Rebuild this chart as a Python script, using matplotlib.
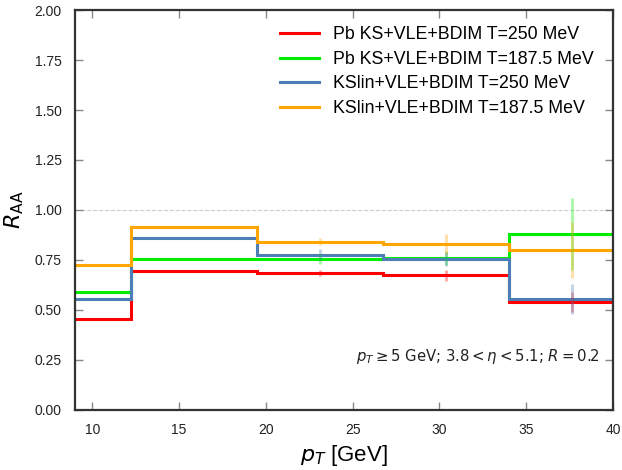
import matplotlib
matplotlib.use("Agg")
import matplotlib.pyplot as plt
import numpy as np

plt.rcParams['font.family'] = ['Liberation Sans', 'DejaVu Sans']
plt.rcParams['mathtext.fontset'] = 'dejavusans'

edges = [5.0, 12.25, 19.5, 26.75, 34.0, 41.25]
centers = [8.625, 15.875, 23.125, 30.375, 37.625]

labels = ["Pb KS+VLE+BDIM T=250 MeV", "Pb KS+VLE+BDIM T=187.5 MeV",
          "KSlin+VLE+BDIM T=250 MeV", "KSlin+VLE+BDIM T=187.5 MeV"]
colors = ["#ff0000", "#00ee00", "#4c7fb5", "#ffa500"]

red_vals = [0.454, 0.695, 0.687, 0.673, 0.540]
green_vals = [0.589, 0.757, 0.754, 0.762, 0.878]
blue_vals = [0.553, 0.862, 0.776, 0.754, 0.556]
orange_vals = [0.726, 0.917, 0.842, 0.832, 0.798]

red_err = [0.005, 0.005, 0.015, 0.027, 0.05]
green_err = [0.005, 0.005, 0.025, 0.035, 0.18]
blue_err = [0.005, 0.005, 0.027, 0.035, 0.075]
orange_err = [0.005, 0.005, 0.017, 0.05, 0.14]

series = [red_vals, green_vals, blue_vals, orange_vals]
errs = [red_err, green_err, blue_err, orange_err]

fig = plt.figure(figsize=(6.22, 4.70), dpi=100)
ax = fig.add_axes([0.1206, 0.1277, 0.865, 0.851])

ax.axhline(1.0, color='#cccccc', ls='--', lw=0.8, zorder=0)

for vals, err, c, lab in zip(series, errs, colors, labels):
    ax.stairs(vals, edges, color=c, lw=2.2, label=lab, baseline=None)
    ax.errorbar(centers, vals, yerr=err, fmt='none', ecolor=c, elinewidth=2, alpha=0.35)

ax.set_xlim(9, 40)
ax.set_ylim(0, 2.0)
ax.set_xticks([10, 15, 20, 25, 30, 35, 40])
ax.set_yticks([0, 0.25, 0.5, 0.75, 1.0, 1.25, 1.5, 1.75, 2.0])
ax.set_yticklabels(["0.00", "0.25", "0.50", "0.75", "1.00", "1.25", "1.50", "1.75", "2.00"])
ax.tick_params(direction='in', length=6, width=1, color='#888888', labelsize=10,
               top=True, right=True, pad=9.5, labelcolor='#222222')
for sp in ax.spines.values():
    sp.set_linewidth(1.6)
    sp.set_color('#333333')

ax.set_xlabel(r"$p_T$ [GeV]", fontsize=16, labelpad=4)
ax.set_ylabel(r"$R_{\mathrm{AA}}$", fontsize=16, labelpad=6)

ax.text(0.976, 0.133, r"$p_T \geq 5$ GeV; $3.8 < \eta < 5.1$; $R = 0.2$",
        transform=ax.transAxes, ha='right', va='center', fontsize=10.7,
        family='DejaVu Sans', color='#222222')

ax.legend(loc='upper right', frameon=False, fontsize=12.8, handlelength=2.2,
          handletextpad=0.8, labelspacing=0.42, borderaxespad=0.3,
          bbox_to_anchor=(0.987, 0.99))

fig.savefig("out.png", dpi=100)
